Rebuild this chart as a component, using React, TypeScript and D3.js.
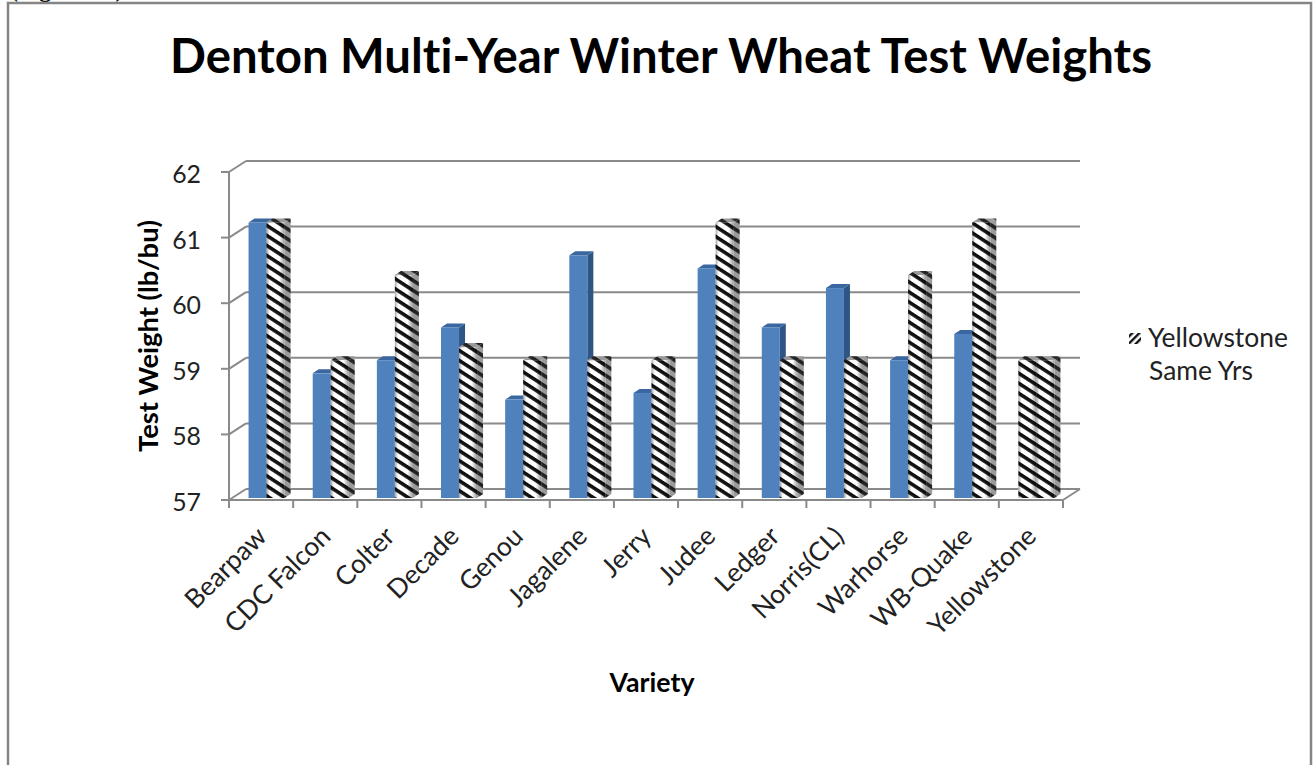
import React, { useEffect, useRef } from 'react';
import * as d3 from 'd3';

const varieties = ['Bearpaw', 'CDC Falcon', 'Colter', 'Decade', 'Genou', 'Jagalene', 'Jerry', 'Judee', 'Ledger', 'Norris(CL)', 'Warhorse', 'WB-Quake', 'Yellowstone'];
const varietyWeights = [61.2, 58.9, 59.1, 59.6, 58.5, 60.7, 58.6, 60.5, 59.6, 60.2, 59.1, 59.5, 59.1];
const yellowstoneSameYrs = [61.2, 59.1, 60.4, 59.3, 59.1, 59.1, 59.1, 61.2, 59.1, 59.1, 60.4, 61.2, 59.1];
const seriesNames = ['Variety', 'Yellowstone Same Yrs'];
const yTicks = [57, 58, 59, 60, 61, 62];
const legendLines = ['Yellowstone', 'Same Yrs'];

export default function App() {
  const ref = useRef<SVGSVGElement>(null);
  const width = 1314;
  const height = 765;

  useEffect(() => {
    const svg = d3.select(ref.current);
    svg.selectAll('*').remove();
    const font = 'Lato, "Open Sans", sans-serif';
    const wallColor = '#8a8a8a';

    // ---------- defs: hatch patterns + cylinder shading ----------
    const defs = svg.append('defs');
    const hatch = (id: string, bg: string, fg: string, rot: number, size: number, stroke: number) => {
      const p = defs.append('pattern')
        .attr('id', id)
        .attr('patternUnits', 'userSpaceOnUse')
        .attr('width', size)
        .attr('height', size)
        .attr('patternTransform', `rotate(${rot})`);
      p.append('rect').attr('width', size).attr('height', size).attr('fill', bg);
      p.append('rect').attr('width', size).attr('height', stroke).attr('fill', fg);
    };
    hatch('hatch', '#fff', '#111', 33, 8.4, 3.6);
    hatch('hatchDark', '#9a9a9a', '#222', 33, 8.4, 3.6);
    hatch('hatchLegend', '#fff', '#111', -45, 5, 2.4);

    const grad = defs.append('linearGradient').attr('id', 'cyl').attr('x1', 0).attr('x2', 1).attr('y1', 0).attr('y2', 0);
    [[0, 0.35], [0.18, 0], [0.7, 0], [1, 0.4]].forEach(([o, a]) => {
      grad.append('stop').attr('offset', o).attr('stop-color', '#000').attr('stop-opacity', a);
    });

    // ---------- frame ----------
    svg.append('rect').attr('width', width).attr('height', height).attr('fill', '#fff');
    svg.append('text')
      .attr('x', 10).attr('y', -3)
      .attr('font-family', '"Liberation Serif", serif')
      .attr('font-weight', 'bold')
      .attr('font-size', 24)
      .text('(Figure 10)');
    svg.append('rect')
      .attr('x', 8).attr('y', 3)
      .attr('width', 1303).attr('height', 800)
      .attr('fill', 'none')
      .attr('stroke', '#858585')
      .attr('stroke-width', 2.5);

    // ---------- scales ----------
    const plot = { left: 229, right: 1063, top: 172, bottom: 500 };
    const depth = { dx: 17, dy: -11 };
    const x0 = d3.scaleBand().domain(varieties).range([plot.left, plot.right]);
    const x1 = d3.scaleBand().domain(seriesNames).range([0, x0.bandwidth()]).paddingOuter(0.78);
    const y = d3.scaleLinear().domain([57, 62]).range([plot.bottom, plot.top]);

    // ---------- walls, grid, axes ----------
    const walls = svg.append('g').attr('stroke', wallColor).attr('stroke-width', 2).attr('fill', 'none');
    walls.selectAll('.grid').data(yTicks).join('line')
      .attr('x1', plot.left + depth.dx).attr('x2', plot.right + depth.dx)
      .attr('y1', d => y(d) + depth.dy).attr('y2', d => y(d) + depth.dy);
    walls.selectAll('.diag').data(yTicks).join('line')
      .attr('x1', plot.left).attr('x2', plot.left + depth.dx)
      .attr('y1', d => y(d)).attr('y2', d => y(d) + depth.dy);
    walls.append('line')
      .attr('x1', plot.left).attr('x2', plot.left)
      .attr('y1', y(62)).attr('y2', y(57) + 8);
    walls.selectAll('.ytick').data(yTicks).join('line')
      .attr('x1', plot.left - 8).attr('x2', plot.left)
      .attr('y1', d => y(d)).attr('y2', d => y(d));
    walls.append('line')
      .attr('x1', plot.left).attr('x2', plot.right)
      .attr('y1', y(57)).attr('y2', y(57));
    walls.append('line')
      .attr('x1', plot.right).attr('x2', plot.right + depth.dx)
      .attr('y1', y(57)).attr('y2', y(57) + depth.dy);
    const boundaries = [...varieties.map(v => x0(v) as number), plot.right];
    walls.selectAll('.xtick').data(boundaries).join('line')
      .attr('x1', d => d).attr('x2', d => d)
      .attr('y1', y(57)).attr('y2', y(57) + 8);

    // ---------- bars ----------
    const barW = x1.bandwidth();
    const side = 6;
    const topH = 4;
    const shift = 5.5;
    const lift = 2;
    const bars = svg.append('g');
    varieties.forEach((v, i) => {
      const values = [varietyWeights[i], yellowstoneSameYrs[i]];
      values.forEach((val, s) => {
        const hatched = s === 1 || v === 'Yellowstone';
        const bx = (x0(v) as number) + (x1(seriesNames[s]) as number) + shift;
        const top = y(val) - lift;
        const bottom = y(57) - lift;
        const g = bars.append('g');
        // side face
        g.append('polygon')
          .attr('points', [[bx + barW, top], [bx + barW + side, top - topH], [bx + barW + side, bottom - topH], [bx + barW, bottom]].join(' '))
          .attr('fill', hatched ? 'url(#hatchDark)' : '#2f5584');
        // top face
        g.append('polygon')
          .attr('points', [[bx, top], [bx + side, top - topH], [bx + barW + side, top - topH], [bx + barW, top]].join(' '))
          .attr('fill', hatched ? 'url(#hatchDark)' : '#3b67a0');
        // front face
        g.append('rect')
          .attr('x', bx).attr('y', top)
          .attr('width', barW).attr('height', bottom - top)
          .attr('fill', hatched ? 'url(#hatch)' : '#4f81bd');
        if (hatched) {
          g.append('rect')
            .attr('x', bx).attr('y', top)
            .attr('width', barW).attr('height', bottom - top)
            .attr('fill', 'url(#cyl)');
        }
      });
    });

    // ---------- text helpers ----------
    const fit = (sel: d3.Selection<SVGTextElement, unknown, null, undefined>, target: number) => {
      const node = sel.node() as SVGTextElement;
      const size = parseFloat(sel.attr('font-size'));
      const len = node.getComputedTextLength();
      if (len > 0) sel.attr('font-size', (size * target / len).toFixed(2));
      return parseFloat(sel.attr('font-size'));
    };

    // title
    const title = svg.append('text')
      .attr('x', 661).attr('y', 73)
      .attr('text-anchor', 'middle')
      .attr('font-family', font)
      .attr('font-weight', 'bold')
      .attr('font-size', 44)
      .style('font-variant-ligatures', 'none')
      .attr('fill', '#000')
      .text('Denton Multi-Year Winter Wheat Test Weights');
    fit(title, 982);

    // legend (also used to size tick labels)
    const legendText = svg.append('g').attr('font-family', font).attr('fill', '#222');
    const l1 = legendText.append('text')
      .attr('x', 1148).attr('y', 347)
      .attr('font-size', 24)
      .text(legendLines[0]);
    const labelSize = fit(l1, 140);
    legendText.append('text')
      .attr('x', 1149).attr('y', 380)
      .attr('font-size', labelSize)
      .text(legendLines[1]);
    svg.append('rect')
      .attr('x', 1129).attr('y', 333)
      .attr('width', 12).attr('height', 11)
      .attr('fill', 'url(#hatchLegend)');

    // y tick labels
    svg.append('g')
      .selectAll('text')
      .data(yTicks)
      .join('text')
      .attr('x', 201)
      .attr('y', d => y(d) + 11)
      .attr('text-anchor', 'end')
      .attr('font-family', font)
      .attr('font-size', labelSize * 0.94)
      .attr('fill', '#222')
      .text(d => d);

    // x tick labels
    svg.append('g')
      .selectAll('text')
      .data(varieties)
      .join('text')
      .attr('text-anchor', 'end')
      .attr('transform', d => `translate(${(x0(d) as number) + x0.bandwidth() / 2 + 7},538) rotate(-45)`)
      .attr('font-family', font)
      .attr('font-size', labelSize)
      .attr('fill', '#222')
      .text(d => d);

    // axis titles
    const yTitle = svg.append('text')
      .attr('transform', 'translate(158,336) rotate(-90)')
      .attr('text-anchor', 'middle')
      .attr('font-family', font)
      .attr('font-weight', 'bold')
      .attr('font-size', 22)
      .text('Test Weight (lb/bu)');
    fit(yTitle, 232);
    const xTitle = svg.append('text')
      .attr('x', 652).attr('y', 692)
      .attr('text-anchor', 'middle')
      .attr('font-family', font)
      .attr('font-weight', 'bold')
      .attr('font-size', 22)
      .text('Variety');
    fit(xTitle, 85);
  }, []);

  return (
    <svg
      ref={ref}
      width={width}
      height={height}
      style={{ position: 'absolute', left: 0, top: 0, display: 'block' }}
    />
  );
}
